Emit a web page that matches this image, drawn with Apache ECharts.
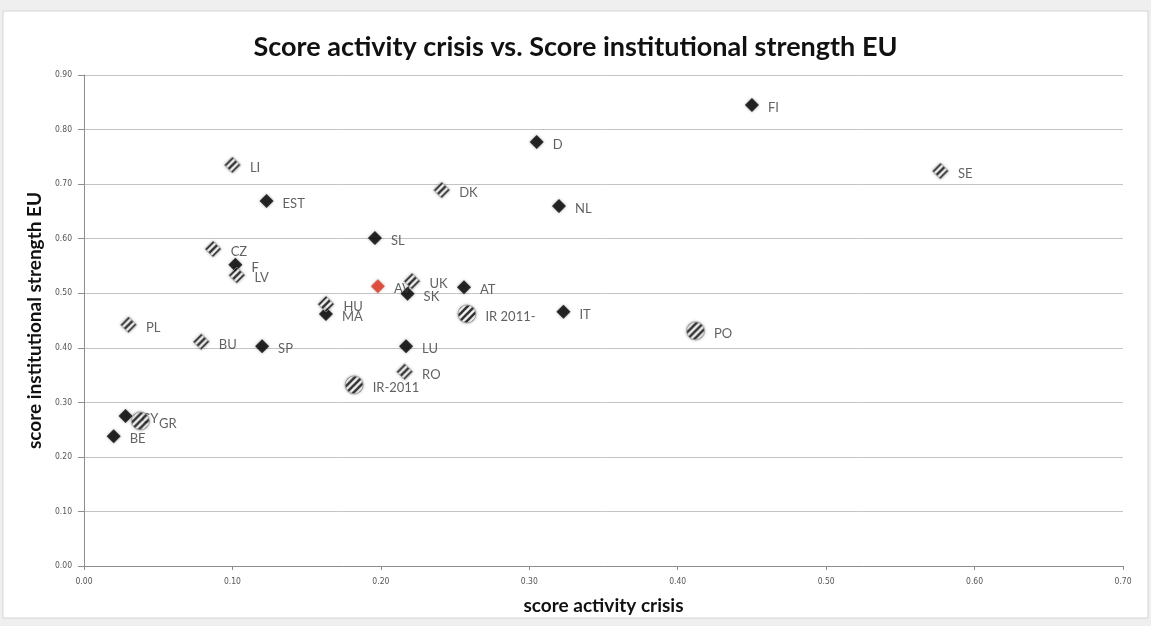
<!DOCTYPE html>
<html>
<head>
<meta charset="utf-8">
<script src="https://cdn.jsdelivr.net/npm/echarts@6/dist/echarts.min.js"></script>
<style>
  html, body { margin: 0; padding: 0; background: #efefef; }
  #chart { width: 1151px; height: 626px; }
</style>
</head>
<body>
<div id="chart"></div>
<script>
  // country codes with their two scores
  let countries = ['FI', 'D', 'SE', 'LI', 'DK', 'EST', 'NL', 'SL', 'CZ', 'F', 'LV', 'AV', 'UK', 'AT', 'SK', 'HU', 'MA', 'IR 2011-', 'IT', 'PL', 'BU', 'SP', 'LU', 'PO', 'RO', 'IR-2011', 'CY', 'GR', 'BE']
  let crisisScore = [0.450, 0.305, 0.577, 0.100, 0.241, 0.123, 0.320, 0.196, 0.087, 0.102, 0.103, 0.198, 0.221, 0.256, 0.218, 0.163, 0.163, 0.258, 0.323, 0.030, 0.079, 0.120, 0.217, 0.412, 0.216, 0.182, 0.028, 0.038, 0.020]
  let institutionScore = [0.845, 0.777, 0.724, 0.735, 0.689, 0.669, 0.660, 0.601, 0.581, 0.552, 0.533, 0.513, 0.522, 0.511, 0.499, 0.480, 0.462, 0.462, 0.466, 0.442, 0.411, 0.403, 0.403, 0.431, 0.356, 0.332, 0.275, 0.266, 0.238]
  // marker kind: solid, striped, circle, average
  let markerKind = ['solid', 'solid', 'striped', 'striped', 'striped', 'solid', 'solid', 'solid', 'striped', 'solid', 'striped', 'average', 'striped', 'solid', 'solid', 'striped', 'solid', 'circle', 'solid', 'striped', 'striped', 'solid', 'solid', 'circle', 'striped', 'circle', 'solid', 'circle', 'solid']
  let xTicks = ['0.00', '0.10', '0.20', '0.30', '0.40', '0.50', '0.60', '0.70']
  let yTicks = ['0.00', '0.10', '0.20', '0.30', '0.40', '0.50', '0.60', '0.70', '0.80', '0.90']

  // diagonal hatch used for the striped markers
  let hatch = document.createElement('canvas')
  hatch.width = 7
  hatch.height = 7
  let ctx = hatch.getContext('2d')
  ctx.fillStyle = '#ffffff'
  ctx.fillRect(0, 0, 7, 7)
  ctx.strokeStyle = '#111111'
  ctx.lineWidth = 2.6
  ctx.beginPath()
  ctx.moveTo(0, 7); ctx.lineTo(7, 0)
  ctx.moveTo(-3.5, 3.5); ctx.lineTo(3.5, -3.5)
  ctx.moveTo(3.5, 10.5); ctx.lineTo(10.5, 3.5)
  ctx.stroke()

  // symbols are drawn at unit size and scaled, so undo that on the pattern
  function hatchFill (size) {
    return { image: hatch, repeat: 'repeat', scaleX: 2 / size, scaleY: 2 / size }
  }

  let fontFamily = 'Lato, "Open Sans", sans-serif'

  function pick (kind) {
    let out = []
    countries.forEach((name, i) => {
      if (markerKind[i] === kind) out.push([crisisScore[i], institutionScore[i], name])
    })
    return out
  }

  let label = {
    show: true,
    position: 'right',
    distance: 9,
    offset: [0, 3],
    formatter: p => p.data[2],
    color: '#3a3a3a',
    fontSize: 13,
    fontFamily: fontFamily
  }

  let styles = {
    solid: { symbol: 'diamond', size: 14, z: 2, itemStyle: { color: '#000000', shadowBlur: 3, shadowColor: 'rgba(0,0,0,0.45)' } },
    average: { symbol: 'diamond', size: 14, z: 2, itemStyle: { color: '#e3321f', shadowBlur: 3, shadowColor: 'rgba(0,0,0,0.35)' } },
    striped: { symbol: 'diamond', size: 16, z: 3, itemStyle: { color: hatchFill(16), borderColor: '#9a9a9a', borderWidth: 1, shadowBlur: 3, shadowColor: 'rgba(0,0,0,0.3)' } },
    circle: { symbol: 'circle', size: 18, z: 4, itemStyle: { color: hatchFill(18), borderColor: '#9a9a9a', borderWidth: 1, shadowBlur: 3, shadowColor: 'rgba(0,0,0,0.3)' } }
  }

  let series = []
  Object.keys(styles).forEach(kind => {
    let s = styles[kind]
    series.push({
      type: 'scatter',
      name: kind,
      z: s.z,
      symbol: s.symbol,
      symbolSize: s.size,
      itemStyle: s.itemStyle,
      label: label,
      emphasis: { disabled: true },
      data: pick(kind)
    })
  })

  let myChart = echarts.init(document.getElementById('chart'))
  let option = {
    backgroundColor: '#efefef',
    animation: false,
    graphic: [{
      type: 'rect',
      z: -10,
      silent: true,
      shape: { x: 3, y: 11, width: 1145, height: 607 },
      style: { fill: '#ffffff', stroke: '#d4d4d4', lineWidth: 1 }
    }],
    title: {
      text: 'Score activity crisis vs. Score institutional strength EU',
      left: 'center',
      top: 29,
      textStyle: { fontFamily: fontFamily, fontSize: 27, fontWeight: 'bold', color: '#111111' }
    },
    grid: { left: 84, right: 28, top: 75, bottom: 60 },
    xAxis: {
      type: 'value',
      min: 0,
      max: 0.7,
      interval: 0.1,
      name: 'score activity crisis',
      nameLocation: 'middle',
      nameGap: 30,
      nameTextStyle: { fontFamily: fontFamily, fontSize: 19, fontWeight: 'bold', color: '#111111' },
      axisLine: { lineStyle: { color: '#8c8c8c' } },
      axisTick: { show: true, length: 4, lineStyle: { color: '#8c8c8c' } },
      splitLine: { show: false },
      axisLabel: {
        formatter: v => xTicks[Math.round(v * 10)],
        fontSize: 8.5,
        color: '#555555',
        margin: 11,
        fontFamily: '"DejaVu Sans Condensed", "Liberation Sans Narrow", sans-serif'
      }
    },
    yAxis: {
      type: 'value',
      min: 0,
      max: 0.9,
      interval: 0.1,
      name: 'score institutional strength EU',
      nameLocation: 'middle',
      nameGap: 39,
      nameTextStyle: { fontFamily: fontFamily, fontSize: 19, fontWeight: 'bold', color: '#111111' },
      axisLine: { show: true, lineStyle: { color: '#8c8c8c' } },
      axisTick: { show: true, length: 6, lineStyle: { color: '#8c8c8c' } },
      splitLine: { lineStyle: { color: '#c4c4c4' } },
      axisLabel: {
        formatter: v => yTicks[Math.round(v * 10)],
        fontSize: 8.5,
        color: '#555555',
        margin: 12,
        fontFamily: '"DejaVu Sans Condensed", "Liberation Sans Narrow", sans-serif'
      }
    },
    series: series
  }
  myChart.setOption(option)
</script>
</body>
</html>
